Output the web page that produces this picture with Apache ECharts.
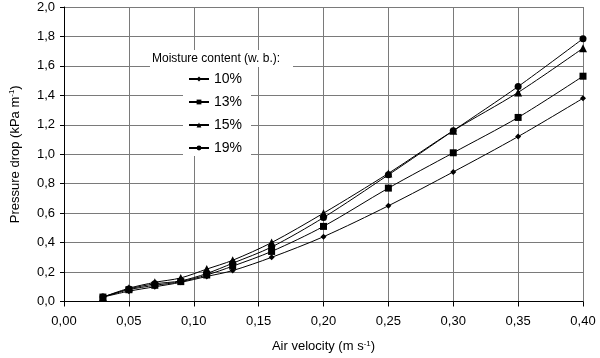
<!DOCTYPE html>
<html>
<head>
<meta charset="utf-8">
<script src="https://cdn.jsdelivr.net/npm/echarts@6/dist/echarts.min.js"></script>
<style>html,body{margin:0;padding:0;background:#fff;}#c{width:600px;height:358px;}</style>
</head>
<body>
<div id="c"></div>
<script>
var xVals = [0.03, 0.05, 0.07, 0.09, 0.11, 0.13, 0.16, 0.20, 0.25, 0.30, 0.35, 0.40];
var m10 = [0.03, 0.07, 0.10, 0.13, 0.17, 0.21, 0.30, 0.44, 0.65, 0.88, 1.12, 1.38];
var m13 = [0.03, 0.08, 0.11, 0.135, 0.18, 0.24, 0.34, 0.51, 0.77, 1.01, 1.25, 1.53];
var m15 = [0.03, 0.09, 0.13, 0.16, 0.22, 0.28, 0.40, 0.60, 0.87, 1.16, 1.42, 1.72];
var m19 = [0.03, 0.085, 0.12, 0.14, 0.19, 0.26, 0.37, 0.57, 0.86, 1.16, 1.46, 1.785];
var seriesNames = ['10%', '13%', '15%', '19%'];
var legendTitle = 'Moisture content (w. b.):';

var font = 'Liberation Sans, Arial, sans-serif';
function pairs(ys) { return xVals.map(function (x, i) { return [x, ys[i]]; }); }
function mk(name, ys, symbol, size) {
  return {
    name: name, type: 'line', data: pairs(ys), smooth: 0.3,
    symbol: symbol, symbolSize: size,
    lineStyle: { color: '#000', width: 1 },
    itemStyle: { color: '#000' },
    emphasis: { disabled: true }
  };
}
var richName = {
  a: { fontSize: 13, color: '#000', fontFamily: font },
  s: { fontSize: 8, color: '#000', fontFamily: font, verticalAlign: 'top', padding: [0, 0, 6, 0] }
};
var chart = echarts.init(document.getElementById('c'));
chart.setOption({
  animation: false,
  textStyle: { fontFamily: font },
  grid: { left: 55, right: 17, top: 7, bottom: 56 },
  xAxis: {
    type: 'value', min: 0, max: 0.4, interval: 0.05,
    axisLine: { lineStyle: { color: '#000', width: 1 } },
    axisTick: { show: true, length: 5, lineStyle: { color: '#000' } },
    axisLabel: { color: '#000', fontSize: 13, margin: 13, fontFamily: font,
      formatter: function (v) { return v.toFixed(2).replace('.', ','); } },
    splitLine: { show: true, lineStyle: { color: '#7a7a7a', width: 1 } },
    name: '{a|Air velocity (m s}{s|-1}{a|)}',
    nameLocation: 'middle', nameGap: 38,
    nameTextStyle: { rich: richName }
  },
  yAxis: {
    type: 'value', min: 0, max: 2, interval: 0.2,
    axisLine: { show: true, lineStyle: { color: '#000', width: 1 } },
    axisTick: { show: true, length: 4, lineStyle: { color: '#000' } },
    axisLabel: { color: '#000', fontSize: 13, margin: 9, fontFamily: font,
      formatter: function (v) { return v.toFixed(1).replace('.', ','); } },
    splitLine: { show: true, lineStyle: { color: '#7a7a7a', width: 1 } },
    name: '{a|Pressure drop (kPa m}{s|-1}{a|)}',
    nameLocation: 'middle', nameGap: 42, nameRotate: 90,
    nameTextStyle: { rich: richName }
  },
  legend: {
    orient: 'vertical', left: 183, top: 67, z: 10,
    itemWidth: 20, itemHeight: 6, itemGap: 9,
    textStyle: { color: '#000', fontSize: 14, fontFamily: font, lineHeight: 14 },
    data: seriesNames
  },
  graphic: [
    { type: 'rect', z: 5, shape: { x: 150, y: 50, width: 143, height: 17 }, style: { fill: '#fff' } },
    { type: 'rect', z: 5, shape: { x: 183, y: 66, width: 68, height: 90 }, style: { fill: '#fff' } },
    { type: 'text', z: 6, left: 152, top: 53, style: { text: legendTitle, fill: '#000', font: '12px ' + font } }
  ],
  series: [
    mk(seriesNames[0], m10, 'diamond', 6),
    mk(seriesNames[1], m13, 'rect', 7),
    mk(seriesNames[2], m15, 'triangle', 8),
    mk(seriesNames[3], m19, 'circle', 7)
  ]
});
</script>
</body>
</html>
